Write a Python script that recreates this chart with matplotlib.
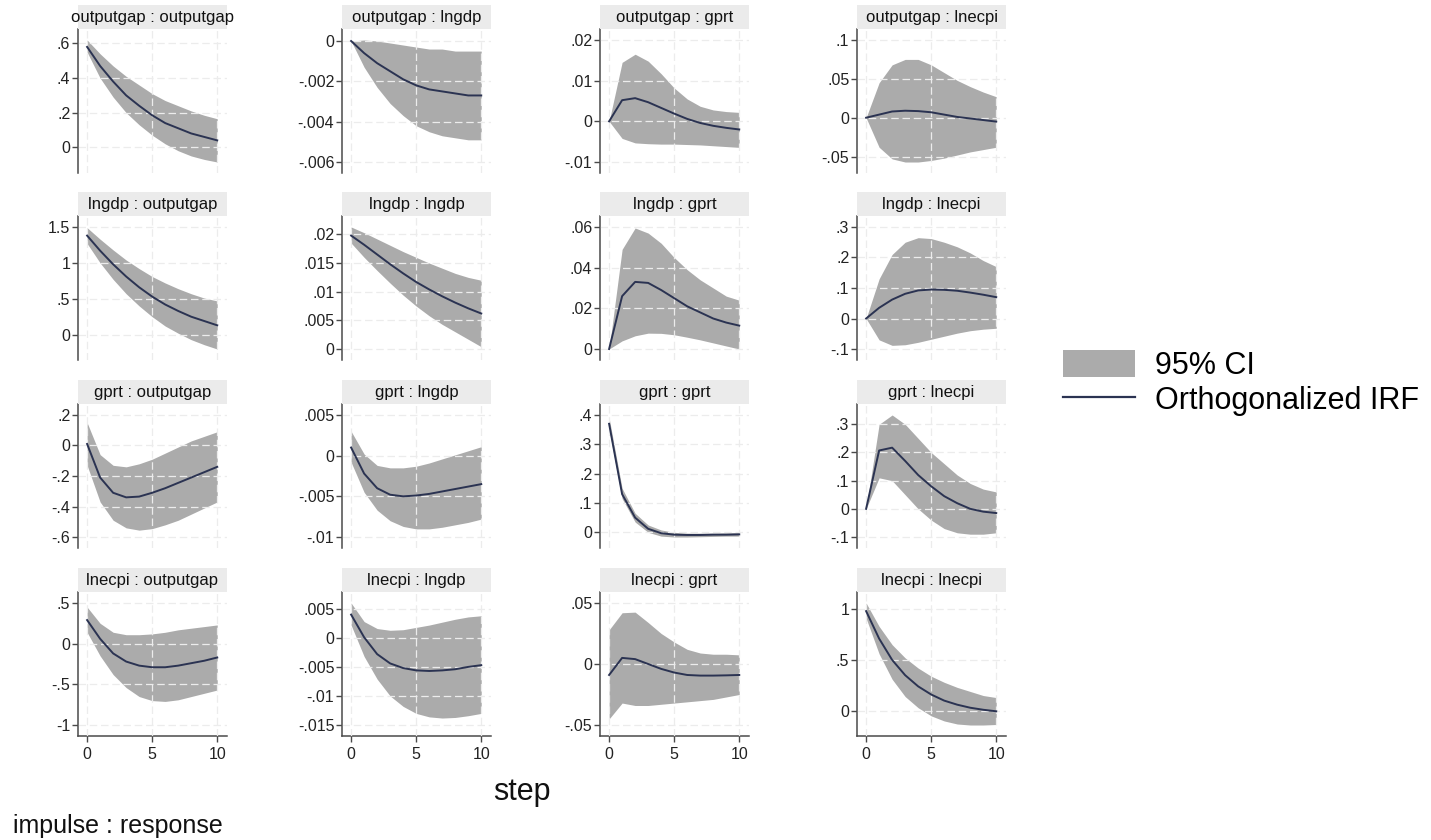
import matplotlib
matplotlib.use("Agg")
import matplotlib.pyplot as plt
import numpy as np
from matplotlib.patches import Patch
from matplotlib.lines import Line2D

plt.rcParams["font.family"] = ["Liberation Sans", "DejaVu Sans"]

steps = list(range(11))
names = ["outputgap", "lngdp", "gprt", "lnecpi"]

# IRF, upper and lower 95% CI, keyed by (impulse, response)
irf = {
    ("outputgap", "outputgap"): [0.58, 0.47, 0.38, 0.30, 0.24, 0.185, 0.14, 0.11, 0.08, 0.06, 0.04],
    ("outputgap", "lngdp"): [0, -0.0006, -0.0011, -0.0015, -0.0019, -0.0022, -0.0024, -0.0025, -0.0026, -0.0027, -0.0027],
    ("outputgap", "gprt"): [0, 0.0052, 0.0057, 0.0047, 0.0033, 0.0019, 0.0006, -0.0004, -0.0011, -0.0016, -0.0020],
    ("outputgap", "lnecpi"): [0, 0.004, 0.008, 0.009, 0.0085, 0.007, 0.004, 0.001, -0.001, -0.003, -0.005],
    ("lngdp", "outputgap"): [1.38, 1.17, 0.98, 0.81, 0.66, 0.53, 0.42, 0.33, 0.25, 0.19, 0.13],
    ("lngdp", "lngdp"): [0.0198, 0.0182, 0.0165, 0.0148, 0.0132, 0.0117, 0.0104, 0.0092, 0.0081, 0.0071, 0.0062],
    ("lngdp", "gprt"): [0, 0.026, 0.033, 0.0325, 0.029, 0.025, 0.021, 0.018, 0.015, 0.013, 0.0115],
    ("lngdp", "lnecpi"): [0, 0.035, 0.062, 0.081, 0.092, 0.095, 0.094, 0.091, 0.085, 0.078, 0.07],
    ("gprt", "outputgap"): [0.01, -0.21, -0.31, -0.34, -0.335, -0.31, -0.28, -0.245, -0.21, -0.175, -0.14],
    ("gprt", "lngdp"): [0.0010, -0.0022, -0.0040, -0.0048, -0.0050, -0.0049, -0.0047, -0.0044, -0.0041, -0.0038, -0.0035],
    ("gprt", "gprt"): [0.37, 0.13, 0.05, 0.012, -0.003, -0.008, -0.009, -0.009, -0.008, -0.008, -0.007],
    ("gprt", "lnecpi"): [0, 0.207, 0.217, 0.17, 0.12, 0.08, 0.045, 0.02, 0.0, -0.01, -0.015],
    ("lnecpi", "outputgap"): [0.29, 0.06, -0.12, -0.22, -0.27, -0.29, -0.29, -0.27, -0.24, -0.21, -0.17],
    ("lnecpi", "lngdp"): [0.004, 0.0001, -0.0028, -0.0044, -0.0052, -0.0056, -0.0057, -0.0056, -0.0054, -0.0050, -0.0047],
    ("lnecpi", "gprt"): [-0.009, 0.005, 0.004, 0.0, -0.004, -0.007, -0.009, -0.0095, -0.0095, -0.0093, -0.009],
    ("lnecpi", "lnecpi"): [0.98, 0.71, 0.50, 0.35, 0.24, 0.16, 0.10, 0.06, 0.03, 0.01, -0.005],
}
upper = {
    ("outputgap", "outputgap"): [0.62, 0.54, 0.47, 0.41, 0.36, 0.31, 0.27, 0.24, 0.21, 0.185, 0.165],
    ("outputgap", "lngdp"): [0, 0.00005, 0.0, -0.0001, -0.0002, -0.0003, -0.0004, -0.0004, -0.0005, -0.0005, -0.0005],
    ("outputgap", "gprt"): [0, 0.0145, 0.0165, 0.0148, 0.0117, 0.0082, 0.0055, 0.0037, 0.0028, 0.0024, 0.0022],
    ("outputgap", "lnecpi"): [0, 0.045, 0.068, 0.075, 0.075, 0.068, 0.058, 0.048, 0.04, 0.033, 0.027],
    ("lngdp", "outputgap"): [1.49, 1.33, 1.18, 1.04, 0.92, 0.81, 0.72, 0.64, 0.57, 0.51, 0.47],
    ("lngdp", "lngdp"): [0.0213, 0.0203, 0.0192, 0.0181, 0.0170, 0.0160, 0.0150, 0.0141, 0.0132, 0.0125, 0.0120],
    ("lngdp", "gprt"): [0, 0.049, 0.0595, 0.057, 0.052, 0.045, 0.039, 0.034, 0.030, 0.026, 0.024],
    ("lngdp", "lnecpi"): [0, 0.13, 0.21, 0.25, 0.265, 0.262, 0.25, 0.235, 0.215, 0.19, 0.17],
    ("gprt", "outputgap"): [0.15, -0.06, -0.13, -0.14, -0.12, -0.09, -0.05, -0.01, 0.03, 0.06, 0.09],
    ("gprt", "lngdp"): [0.003, 0.0002, -0.0012, -0.0015, -0.0015, -0.0013, -0.0009, -0.0004, 0.0001, 0.0006, 0.0011],
    ("gprt", "gprt"): [0.39, 0.15, 0.065, 0.025, 0.008, 0.0, -0.003, -0.003, -0.003, -0.002, -0.001],
    ("gprt", "lnecpi"): [0, 0.30, 0.333, 0.30, 0.25, 0.20, 0.16, 0.12, 0.09, 0.07, 0.06],
    ("lnecpi", "outputgap"): [0.45, 0.25, 0.14, 0.11, 0.11, 0.12, 0.14, 0.17, 0.19, 0.21, 0.23],
    ("lnecpi", "lngdp"): [0.006, 0.0028, 0.0016, 0.0013, 0.0014, 0.0018, 0.0022, 0.0027, 0.0032, 0.0036, 0.0038],
    ("lnecpi", "gprt"): [0.028, 0.042, 0.0425, 0.034, 0.025, 0.018, 0.012, 0.009, 0.008, 0.008, 0.0075],
    ("lnecpi", "lnecpi"): [1.06, 0.83, 0.65, 0.52, 0.42, 0.34, 0.28, 0.23, 0.19, 0.15, 0.13],
}
lower = {
    ("outputgap", "outputgap"): [0.55, 0.40, 0.29, 0.20, 0.13, 0.07, 0.02, -0.02, -0.05, -0.07, -0.085],
    ("outputgap", "lngdp"): [0, -0.0013, -0.0023, -0.0031, -0.0037, -0.0042, -0.0045, -0.0047, -0.0048, -0.0049, -0.0049],
    ("outputgap", "gprt"): [0, -0.0042, -0.0053, -0.0055, -0.0056, -0.0056, -0.0057, -0.0058, -0.0060, -0.0062, -0.0064],
    ("outputgap", "lnecpi"): [0, -0.038, -0.053, -0.057, -0.057, -0.055, -0.052, -0.048, -0.044, -0.041, -0.038],
    ("lngdp", "outputgap"): [1.27, 1.00, 0.77, 0.57, 0.40, 0.25, 0.12, 0.02, -0.07, -0.14, -0.20],
    ("lngdp", "lngdp"): [0.0185, 0.0160, 0.0137, 0.0115, 0.0094, 0.0075, 0.0058, 0.0043, 0.0030, 0.0017, 0.0004],
    ("lngdp", "gprt"): [0, 0.004, 0.0065, 0.0078, 0.0077, 0.007, 0.0058, 0.0045, 0.003, 0.0015, 0.0],
    ("lngdp", "lnecpi"): [0, -0.07, -0.088, -0.086, -0.078, -0.068, -0.058, -0.048, -0.04, -0.035, -0.032],
    ("gprt", "outputgap"): [-0.13, -0.37, -0.49, -0.54, -0.555, -0.545, -0.52, -0.49, -0.45, -0.41, -0.37],
    ("gprt", "lngdp"): [-0.0008, -0.0045, -0.0067, -0.0080, -0.0087, -0.0090, -0.0090, -0.0088, -0.0085, -0.0082, -0.0078],
    ("gprt", "gprt"): [0.35, 0.115, 0.035, 0.0, -0.013, -0.016, -0.016, -0.015, -0.014, -0.013, -0.013],
    ("gprt", "lnecpi"): [0, 0.11, 0.10, 0.05, 0.0, -0.04, -0.07, -0.085, -0.09, -0.09, -0.085],
    ("lnecpi", "outputgap"): [0.14, -0.15, -0.38, -0.54, -0.65, -0.70, -0.71, -0.69, -0.65, -0.61, -0.57],
    ("lnecpi", "lngdp"): [0.0022, -0.0032, -0.0071, -0.0100, -0.0118, -0.0130, -0.0136, -0.0138, -0.0137, -0.0134, -0.0130],
    ("lnecpi", "gprt"): [-0.045, -0.032, -0.034, -0.034, -0.033, -0.032, -0.031, -0.030, -0.029, -0.027, -0.025],
    ("lnecpi", "lnecpi"): [0.91, 0.56, 0.31, 0.14, 0.03, -0.05, -0.10, -0.13, -0.14, -0.14, -0.135],
}
# y tick values and labels (Stata formatting)
yticks = {
    ("outputgap", "outputgap"): ([0, 0.2, 0.4, 0.6], ["0", ".2", ".4", ".6"]),
    ("outputgap", "lngdp"): ([-0.006, -0.004, -0.002, 0], ["-.006", "-.004", "-.002", "0"]),
    ("outputgap", "gprt"): ([-0.01, 0, 0.01, 0.02], ["-.01", "0", ".01", ".02"]),
    ("outputgap", "lnecpi"): ([-0.05, 0, 0.05, 0.1], ["-.05", "0", ".05", ".1"]),
    ("lngdp", "outputgap"): ([0, 0.5, 1, 1.5], ["0", ".5", "1", "1.5"]),
    ("lngdp", "lngdp"): ([0, 0.005, 0.01, 0.015, 0.02], ["0", ".005", ".01", ".015", ".02"]),
    ("lngdp", "gprt"): ([0, 0.02, 0.04, 0.06], ["0", ".02", ".04", ".06"]),
    ("lngdp", "lnecpi"): ([-0.1, 0, 0.1, 0.2, 0.3], ["-.1", "0", ".1", ".2", ".3"]),
    ("gprt", "outputgap"): ([-0.6, -0.4, -0.2, 0, 0.2], ["-.6", "-.4", "-.2", "0", ".2"]),
    ("gprt", "lngdp"): ([-0.01, -0.005, 0, 0.005], ["-.01", "-.005", "0", ".005"]),
    ("gprt", "gprt"): ([0, 0.1, 0.2, 0.3, 0.4], ["0", ".1", ".2", ".3", ".4"]),
    ("gprt", "lnecpi"): ([-0.1, 0, 0.1, 0.2, 0.3], ["-.1", "0", ".1", ".2", ".3"]),
    ("lnecpi", "outputgap"): ([-1, -0.5, 0, 0.5], ["-1", "-.5", "0", ".5"]),
    ("lnecpi", "lngdp"): ([-0.015, -0.01, -0.005, 0, 0.005], ["-.015", "-.01", "-.005", "0", ".005"]),
    ("lnecpi", "gprt"): ([-0.05, 0, 0.05], ["-.05", "0", ".05"]),
    ("lnecpi", "lnecpi"): ([0, 0.5, 1], ["0", ".5", "1"]),
}
xticks = [0, 5, 10]

W, H = 1431, 840
fig = plt.figure(figsize=(W / 100, H / 100), dpi=100)

band_color = "#ababab"
line_color = "#2b3352"
strip_color = "#ebebeb"
grid_color = "#ececec"
axis_color = "#4a4a4a"

col_left = [78, 342, 600, 857]
row_top = [29, 216, 404, 592]
ax_w, ax_h, strip_h = 149, 144, 24


def px_axes(x0, y_top, w, h):
    return fig.add_axes([x0 / W, 1 - (y_top + h) / H, w / W, h / H])


for i, imp in enumerate(names):
    for j, resp in enumerate(names):
        key = (imp, resp)
        ax = px_axes(col_left[j], row_top[i], ax_w, ax_h)
        ax.fill_between(steps, lower[key], upper[key], color=band_color, lw=0, zorder=1)
        ax.plot(steps, irf[key], color=line_color, lw=1.4, zorder=3)

        tv, tl = yticks[key]
        lo = min(min(tv), min(lower[key]))
        hi = max(max(tv), max(upper[key]))
        pad = 0.09 * (hi - lo)
        ax.set_ylim(lo - pad, hi + pad)
        ax.set_xlim(-0.7, 10.75)
        ax.set_yticks(tv)
        ax.set_yticklabels(tl)
        ax.set_xticks(xticks)
        ax.grid(True, color=grid_color, lw=0.9, ls=(0, (6, 3)), zorder=2)
        ax.set_axisbelow(False)
        for s in ["top", "right"]:
            ax.spines[s].set_visible(False)
        ax.spines["left"].set_color(axis_color)
        ax.spines["left"].set_linewidth(1.1)
        ax.tick_params(axis="y", direction="out", length=4, width=1,
                       color=axis_color, labelsize=11.5, labelcolor="#222222", pad=1.5)
        if i == 3:
            ax.spines["bottom"].set_color(axis_color)
            ax.spines["bottom"].set_linewidth(1.1)
            ax.tick_params(axis="x", direction="out", length=4, width=1,
                           color=axis_color, labelsize=11.5, labelcolor="#222222", pad=4)
        else:
            ax.spines["bottom"].set_visible(False)
            ax.tick_params(axis="x", length=0, labelbottom=False)

        sax = px_axes(col_left[j], row_top[i] - strip_h, ax_w, strip_h)
        sax.set_facecolor(strip_color)
        sax.set_xticks([])
        sax.set_yticks([])
        for s in sax.spines.values():
            s.set_visible(False)
        sax.text(0.5, 0.48, f"{imp} : {resp}", ha="center", va="center",
                 fontsize=12, color="#111111", transform=sax.transAxes, clip_on=False)

fig.text(522 / W, 1 - 792 / H, "step", ha="center", va="center", fontsize=22, color="#111111")
fig.text(13 / W, 1 - 826 / H, "impulse : response", ha="left", va="center", fontsize=18, color="#111111")

handles = [
    Patch(facecolor=band_color, edgecolor="none", label="95% CI"),
    Line2D([0], [0], color=line_color, lw=1.6, label="Orthogonalized IRF"),
]
fig.legend(handles=handles, loc="center left", bbox_to_anchor=(1063 / W, 1 - 383 / H),
           frameon=False, fontsize=22, handlelength=2.35, handleheight=1.0,
           handletextpad=0.65, labelspacing=0.15, borderaxespad=0, borderpad=0)

fig.savefig("out.png", dpi=100, facecolor="white")
